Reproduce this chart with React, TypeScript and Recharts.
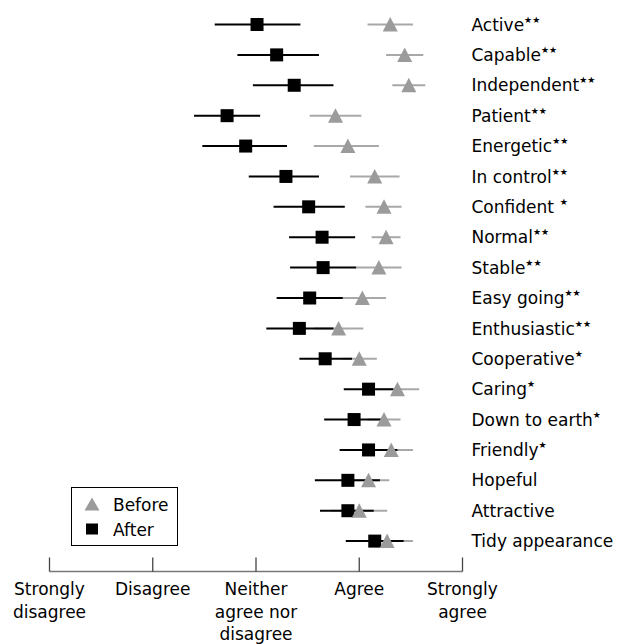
import React from 'react'
import { ScatterChart, Scatter, XAxis, YAxis, ErrorBar, Legend } from 'recharts'

const TRAITS = [
  'Active', 'Capable', 'Independent', 'Patient', 'Energetic', 'In control',
  'Confident', 'Normal', 'Stable', 'Easy going', 'Enthusiastic', 'Cooperative',
  'Caring', 'Down to earth', 'Friendly', 'Hopeful', 'Attractive', 'Tidy appearance',
]
const STARS = [
  '★★', '★★', '★★', '★★', '★★', '★★',
  '  ★', '★★', '★★', '★★', '★★', '★',
  '★', '★', '★', '', '', '',
]

const BEFORE_MEAN = [4.30, 4.44, 4.48, 3.77, 3.89, 4.15, 4.24, 4.26, 4.19, 4.03, 3.80, 4.00, 4.37, 4.24, 4.31, 4.09, 4.00, 4.27]
const BEFORE_LOW = [4.08, 4.26, 4.32, 3.52, 3.56, 3.91, 4.06, 4.12, 3.97, 3.80, 3.56, 3.83, 4.16, 4.08, 4.10, 3.89, 3.73, 4.02]
const BEFORE_HIGH = [4.52, 4.62, 4.64, 4.02, 4.19, 4.39, 4.41, 4.40, 4.41, 4.26, 4.04, 4.17, 4.58, 4.40, 4.52, 4.29, 4.27, 4.52]

const AFTER_MEAN = [3.01, 3.20, 3.37, 2.72, 2.90, 3.29, 3.51, 3.64, 3.65, 3.52, 3.42, 3.67, 4.09, 3.95, 4.09, 3.89, 3.89, 4.15]
const AFTER_LOW = [2.60, 2.82, 2.97, 2.40, 2.48, 2.93, 3.17, 3.32, 3.33, 3.20, 3.10, 3.42, 3.85, 3.66, 3.81, 3.57, 3.62, 3.87]
const AFTER_HIGH = [3.43, 3.61, 3.75, 3.04, 3.30, 3.61, 3.86, 3.96, 3.97, 3.84, 3.75, 3.93, 4.33, 4.24, 4.37, 4.20, 4.14, 4.43]

const SCALE_TICKS = [1, 2, 3, 4, 5]
const SCALE_LABELS = [
  ['Strongly', 'disagree'],
  ['Disagree'],
  ['Neither', 'agree nor', 'disagree'],
  ['Agree'],
  ['Strongly', 'agree'],
]

const LEGEND_ITEMS = [
  { label: 'Before', marker: 'triangle' },
  { label: 'After', marker: 'square' },
]

const FONT = '"DejaVu Sans", sans-serif'
const GREY = '#9b9b9b'
const GREY_LINE = '#a8a8a8'

const toPoints = (mean: number[], low: number[], high: number[]) =>
  mean.map((m, i) => ({ x: m, row: i, err: [m - low[i], high[i] - m] }))

const beforeData = toPoints(BEFORE_MEAN, BEFORE_LOW, BEFORE_HIGH)
const afterData = toPoints(AFTER_MEAN, AFTER_LOW, AFTER_HIGH)

const Square = ({ cx, cy }: any) => (
  <rect x={cx - 6.5} y={cy - 6.5} width={13} height={13} fill="#000" />
)

const Triangle = ({ cx, cy }: any) => (
  <polygon
    points={`${cx},${cy - 7.5} ${cx - 7.5},${cy + 7} ${cx + 7.5},${cy + 7}`}
    fill={GREY}
  />
)

const Nothing = () => <g />

const TraitTick = ({ x, y, payload }: any) => {
  const i = payload.value
  return (
    <text
      x={x + 9}
      y={y}
      dy="0.36em"
      textAnchor="start"
      fontFamily={FONT}
      fontSize={17}
      fill="#000"
      style={{ whiteSpace: 'pre' }}
    >
      {TRAITS[i]}
      {STARS[i] && (
        <tspan fontSize={9} dy={-8}>
          {STARS[i]}
        </tspan>
      )}
    </text>
  )
}

const ScaleTick = ({ x, y, payload }: any) => {
  const idx = SCALE_TICKS.indexOf(payload.value)
  const lines = SCALE_LABELS[idx] || []
  return (
    <g>
      <line x1={x} x2={x} y1={y} y2={y - 14} stroke="#444" strokeWidth={1.3} />
      <text x={x} y={y + 23.5} textAnchor="middle" fontFamily={FONT} fontSize={17} fill="#000">
        {lines.map((l, k) => (
          <tspan key={k} x={x} dy={k === 0 ? 0 : 22.5}>
            {l}
          </tspan>
        ))}
      </text>
    </g>
  )
}

const LegendBox = () => (
  <div
    style={{
      width: 107,
      height: 59,
      boxSizing: 'border-box',
      border: '1px solid #000',
      background: '#fff',
      position: 'relative',
    }}
  >
    <svg width={105} height={57} style={{ position: 'absolute', left: 0, top: 0 }}>
      {LEGEND_ITEMS.map((item, k) => {
        const cy = k === 0 ? 16.5 : 41
        return (
          <g key={item.label}>
            {item.marker === 'triangle' ? (
              <polygon points={`20,${cy - 7} 12.5,${cy + 6} 27.5,${cy + 6}`} fill={GREY} />
            ) : (
              <rect x={14} y={cy - 5.5} width={12} height={11} fill="#000" />
            )}
            <text x={41} y={cy + 6.5} fontFamily={FONT} fontSize={17} fill="#000">
              {item.label}
            </text>
          </g>
        )
      })}
    </svg>
  </div>
)

export default function App() {
  return (
    <div style={{ position: 'absolute', left: 0, top: 0, background: '#fff' }}>
      <ScatterChart
        width={621}
        height={644}
        margin={{ top: 24.5, right: 0, bottom: 0, left: 49.5 }}
      >
        <XAxis
          type="number"
          dataKey="x"
          domain={[1, 5]}
          ticks={SCALE_TICKS}
          interval={0}
          height={72.5}
          axisLine={{ stroke: '#777', strokeWidth: 1.5 }}
          tickLine={false}
          tickSize={0}
          tickMargin={0}
          tick={<ScaleTick />}
        />
        <YAxis
          type="number"
          dataKey="row"
          orientation="right"
          domain={[0, 18]}
          reversed
          ticks={TRAITS.map((_, i) => i)}
          interval={0}
          width={158.5}
          axisLine={false}
          tickLine={false}
          tickSize={0}
          tickMargin={0}
          tick={<TraitTick />}
        />
        <Legend
          layout="vertical"
          align="center"
          verticalAlign="middle"
          wrapperStyle={{ position: 'absolute', left: 71, top: 487, width: 107, height: 59 }}
          content={() => <LegendBox />}
        />
        <Scatter data={beforeData} shape={<Nothing />} isAnimationActive={false}>
          <ErrorBar dataKey="err" direction="x" width={0} stroke={GREY_LINE} strokeWidth={2} />
        </Scatter>
        <Scatter data={afterData} shape={<Square />} isAnimationActive={false}>
          <ErrorBar dataKey="err" direction="x" width={0} stroke="#000" strokeWidth={2} />
        </Scatter>
        <Scatter data={beforeData} shape={<Triangle />} isAnimationActive={false} />
      </ScatterChart>
    </div>
  )
}
